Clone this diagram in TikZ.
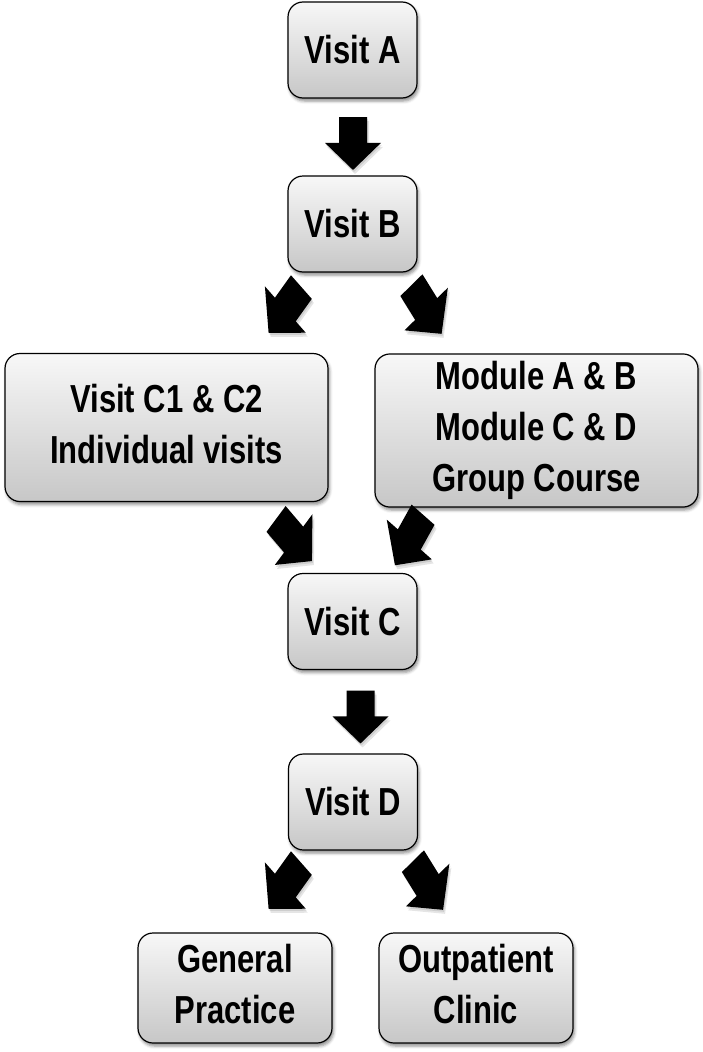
\documentclass[tikz,border=0pt]{standalone}
\usepackage{fontspec}
\setmainfont{Liberation Sans}
\usetikzlibrary{shadows.blur}
\definecolor{boxtop}{gray}{0.97}
\definecolor{boxbot}{gray}{0.78}
\newcommand{\vs}[1]{\scalebox{1}[1.26]{#1}}
% block arrow: cx, cy, angle, total length, head length, shaft width, head width
\newcommand{\barrowshape}[7]{%
  ({-#4/2},{-#6/2}) -- ({#4/2-#5},{-#6/2}) -- ({#4/2-#5},{-#7/2}) -- ({#4/2},0) --
  ({#4/2-#5},{#7/2}) -- ({#4/2-#5},{#6/2}) -- ({-#4/2},{#6/2}) -- cycle}
\newcommand{\barrow}[7]{%
  \fill[black,opacity=0.10,shift={(#1+1,#2+2)},yscale=1.26,rotate=#3] \barrowshape{#1}{#2}{#3}{#4}{#5}{#6}{#7};
  \fill[black,opacity=0.10,shift={(#1+2,#2+4)},yscale=1.26,rotate=#3] \barrowshape{#1}{#2}{#3}{#4}{#5}{#6}{#7};
  \fill[black,shift={(#1,#2)},yscale=1.26,rotate=#3] \barrowshape{#1}{#2}{#3}{#4}{#5}{#6}{#7};}
\begin{document}
\begin{tikzpicture}[x=1pt,y=-1pt,
  box/.style={draw=black, line width=1.2pt, rounded corners=15pt,
    top color=boxtop, bottom color=boxbot, inner sep=0pt,
    font=\fontsize{31}{40.5}\selectfont\bfseries,
    blur shadow={shadow xshift=1.5pt, shadow yshift=-3pt, shadow blur radius=3pt, shadow opacity=45}},
  small/.style={box, minimum width=129pt, minimum height=96pt},
  wide/.style={box, minimum width=323pt, minimum height=148pt},
  leaf/.style={box, minimum width=194pt, minimum height=110pt}]
\useasboundingbox (0,0) rectangle (703,1052);

\node[small] (A) at (352.5,50) {\vs{Visit A}};
\node[small] (B) at (352.5,224) {\vs{Visit B}};
\node[wide] (C1) at (166.5,427.5) {\vs{\begin{tabular}{@{}c@{}}Visit C1 \& C2\\Individual visits\end{tabular}}};
\node[wide] (M) at (536.5,430.5) {\vs{\begin{tabular}{@{}c@{}}Module A \& B\\Module C \& D\\Group Course\end{tabular}}};
\node[small] (C) at (352.5,621.5) {\vs{Visit C}};
\node[small] (D) at (353,802) {\vs{Visit D}};
\node[leaf] (GP) at (235,988) {\vs{\begin{tabular}{@{}c@{}}General\\Practice\end{tabular}}};
\node[leaf] (OC) at (476,988) {\vs{\begin{tabular}{@{}c@{}}Outpatient\\Clinic\end{tabular}}};

% block arrows
\barrow{353}{143.5}{-90}{42}{21.5}{28}{56}
\barrow{285}{310}{-132}{49}{25}{28}{55}
\barrow{426.5}{309.5}{-52}{49}{25}{28}{55}
\barrow{294}{540}{-43}{49}{25}{28}{55}
\barrow{409}{540}{-125}{49}{25}{28}{55}
\barrow{360.5}{717}{-90}{42}{21.5}{28}{56}
\barrow{285}{886}{-132}{49}{25}{28}{55}
\barrow{428}{885.5}{-52}{49}{25}{28}{55}
\end{tikzpicture}
\end{document}
